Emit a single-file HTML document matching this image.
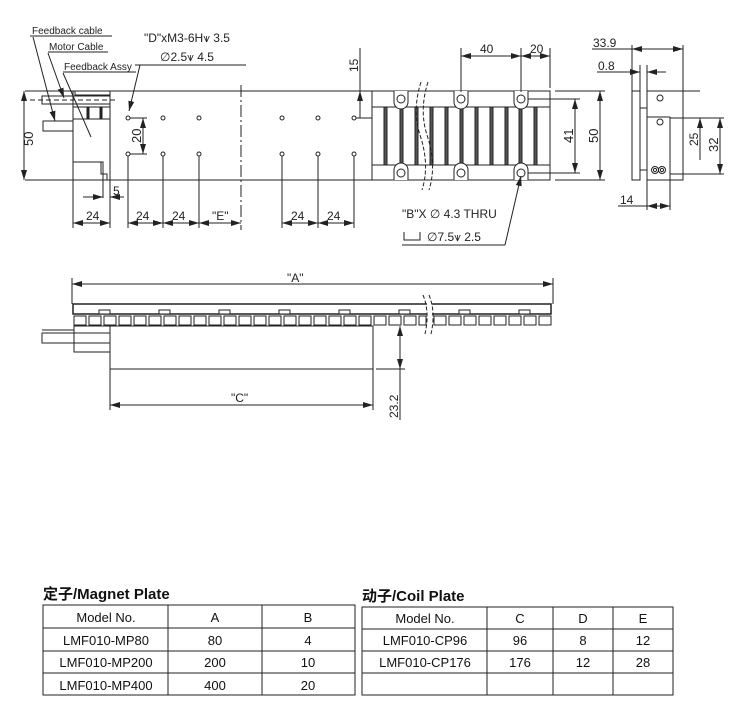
<!DOCTYPE html>
<html><head><meta charset="utf-8"><style>
html,body{margin:0;padding:0;background:#fff;}
svg{display:block;font-family:"Liberation Sans",sans-serif;}
.t{font-family:"Liberation Sans","Noto Sans CJK SC",sans-serif;}
</style></head><body>
<svg width="731" height="708" viewBox="0 0 731 708" xmlns="http://www.w3.org/2000/svg">
<defs>
<marker id="a" viewBox="0 0 10 6" refX="10" refY="3" markerWidth="10" markerHeight="6" orient="auto-start-reverse" markerUnits="userSpaceOnUse"><path d="M0,0 L10,3 L0,6 z" fill="#222"/></marker>
</defs>
<g stroke="#222" stroke-width="1" fill="none">
<line x1="25" y1="91" x2="372" y2="91"/>
<line x1="25" y1="180" x2="372" y2="180"/>
<rect x="73" y="91" width="37" height="89"/>
<rect x="75" y="91" width="35" height="4"/>
<rect x="42" y="96" width="68" height="8"/>
<line x1="30" y1="100" x2="116" y2="100" stroke-dasharray="5,3"/>
<rect x="43" y="121" width="30" height="10"/>
<rect x="73" y="107" width="37" height="12"/>
<line x1="88" y1="107" x2="88" y2="119" stroke-width="3"/>
<line x1="101" y1="107" x2="101" y2="119" stroke-width="3"/>
<rect x="73" y="162" width="30" height="18"/>
<path d="M101,162 V174 H107 V180"/>
<line x1="241" y1="85" x2="241" y2="230" stroke-dasharray="12,3,2,3"/>
<g fill="#fff">
<circle cx="128" cy="118" r="2"/><circle cx="163" cy="118" r="2"/><circle cx="199" cy="118" r="2"/>
<circle cx="282" cy="118" r="2"/><circle cx="318" cy="118" r="2"/><circle cx="354" cy="118" r="2"/>
<circle cx="128" cy="154" r="2"/><circle cx="163" cy="154" r="2"/><circle cx="199" cy="154" r="2"/>
<circle cx="282" cy="154" r="2"/><circle cx="318" cy="154" r="2"/><circle cx="354" cy="154" r="2"/>
</g>
<line x1="30" y1="36" x2="112" y2="36"/>
<line x1="33" y1="37" x2="55" y2="121" marker-end="url(#a)"/>
<line x1="48" y1="52" x2="108" y2="52"/>
<line x1="48" y1="53" x2="64" y2="98" marker-end="url(#a)"/>
<line x1="63" y1="72" x2="136" y2="72"/>
<line x1="63" y1="73" x2="91" y2="137"/>
<line x1="135" y1="65" x2="246" y2="65"/>
<line x1="140" y1="65" x2="129" y2="111" marker-end="url(#a)"/>
<line x1="24" y1="91" x2="24" y2="180" marker-start="url(#a)" marker-end="url(#a)"/>
<line x1="130" y1="118" x2="147" y2="118"/><line x1="130" y1="154" x2="147" y2="154"/>
<line x1="143" y1="118" x2="143" y2="154" marker-start="url(#a)" marker-end="url(#a)"/>
<line x1="360" y1="48" x2="360" y2="91"/>
<line x1="360" y1="91" x2="360" y2="118" marker-start="url(#a)"/>
<line x1="356" y1="118" x2="372" y2="118"/>
<line x1="73" y1="180" x2="73" y2="228"/><line x1="110" y1="180" x2="110" y2="228"/>
<line x1="128" y1="156" x2="128" y2="228"/><line x1="163" y1="156" x2="163" y2="228"/><line x1="199" y1="156" x2="199" y2="228"/>
<line x1="282" y1="156" x2="282" y2="228"/><line x1="318" y1="156" x2="318" y2="228"/><line x1="354" y1="156" x2="354" y2="228"/>
<line x1="103" y1="175" x2="103" y2="198"/>
<line x1="83" y1="197" x2="103" y2="197" marker-end="url(#a)"/>
<line x1="110" y1="197" x2="124" y2="197" marker-start="url(#a)"/>
<line x1="73" y1="223" x2="110" y2="223" marker-start="url(#a)" marker-end="url(#a)"/>
<line x1="128" y1="223" x2="163" y2="223" marker-start="url(#a)" marker-end="url(#a)"/>
<line x1="163" y1="223" x2="199" y2="223" marker-start="url(#a)" marker-end="url(#a)"/>
<line x1="199" y1="223" x2="241" y2="223" marker-start="url(#a)" marker-end="url(#a)"/>
<line x1="282" y1="223" x2="318" y2="223" marker-start="url(#a)" marker-end="url(#a)"/>
<line x1="318" y1="223" x2="354" y2="223" marker-start="url(#a)" marker-end="url(#a)"/>
<!-- magnet plate top view -->
<rect x="372" y="91" width="178" height="89"/>
<rect x="372" y="107" width="178" height="58"/>
<g fill="#555">
<rect x="384" y="107" width="3" height="58"/><rect x="400" y="107" width="3" height="58"/><rect x="415" y="107" width="3" height="58"/>
<rect x="430" y="107" width="3" height="58"/><rect x="445" y="107" width="3" height="58"/><rect x="460" y="107" width="3" height="58"/>
<rect x="475" y="107" width="3" height="58"/><rect x="490" y="107" width="3" height="58"/><rect x="505" y="107" width="3" height="58"/>
<rect x="519" y="107" width="3" height="58"/><rect x="534" y="107" width="3" height="58"/>
</g>
<path d="M421,82 Q412,110 420,135 Q430,165 422,190" stroke-dasharray="4,2"/>
<path d="M428,82 Q419,110 427,135 Q437,165 429,190" stroke-dasharray="4,2"/>
<g fill="#fff">
<path d="M394,91 V102 A7,7 0 0 0 408,102 V91"/><path d="M454,91 V102 A7,7 0 0 0 468,102 V91"/><path d="M514,91 V102 A7,7 0 0 0 528,102 V91"/>
<path d="M394,180 V170 A7,7 0 0 1 408,170 V180"/><path d="M454,180 V170 A7,7 0 0 1 468,170 V180"/><path d="M514,180 V170 A7,7 0 0 1 528,170 V180"/>
<circle cx="401" cy="99" r="4"/><circle cx="461" cy="99" r="4"/><circle cx="521" cy="99" r="4"/>
<circle cx="401" cy="173" r="4"/><circle cx="461" cy="173" r="4"/><circle cx="521" cy="173" r="4"/>
</g>
<line x1="461" y1="48" x2="461" y2="92"/><line x1="521" y1="48" x2="521" y2="92"/><line x1="550" y1="48" x2="550" y2="88"/>
<line x1="461" y1="56" x2="521" y2="56" marker-start="url(#a)" marker-end="url(#a)"/>
<line x1="521" y1="56" x2="550" y2="56" marker-start="url(#a)" marker-end="url(#a)"/>
<line x1="528" y1="99" x2="580" y2="99"/><line x1="528" y1="173" x2="580" y2="173"/>
<line x1="575" y1="99" x2="575" y2="173" marker-start="url(#a)" marker-end="url(#a)"/>
<line x1="555" y1="91" x2="605" y2="91"/><line x1="555" y1="180" x2="605" y2="180"/>
<line x1="600" y1="91" x2="600" y2="180" marker-start="url(#a)" marker-end="url(#a)"/>
<line x1="521" y1="176" x2="505" y2="245" marker-start="url(#a)"/>
<line x1="402" y1="245" x2="505" y2="245"/>
<path d="M404,232 V240 H420 V232"/>
<!-- side view -->
<rect x="632" y="91" width="8" height="89"/>
<rect x="640" y="108" width="7" height="62"/>
<rect x="647" y="91" width="36" height="89"/>
<line x1="647" y1="117" x2="670" y2="117"/>
<line x1="670" y1="117" x2="670" y2="174"/>
<circle cx="660" cy="98" r="3"/><circle cx="660" cy="122" r="3"/>
<circle cx="655" cy="170" r="3.5"/><circle cx="662" cy="170" r="3.5"/>
<circle cx="655" cy="170" r="1.6"/><circle cx="662" cy="170" r="1.6"/>
<line x1="632" y1="45" x2="632" y2="91"/><line x1="683" y1="45" x2="683" y2="91"/>
<line x1="592" y1="49" x2="632" y2="49"/>
<line x1="632" y1="49" x2="683" y2="49" marker-start="url(#a)" marker-end="url(#a)"/>
<line x1="640" y1="65" x2="640" y2="91"/><line x1="647" y1="65" x2="647" y2="91"/>
<line x1="597" y1="72" x2="640" y2="72" marker-end="url(#a)"/>
<line x1="647" y1="72" x2="666" y2="72" marker-start="url(#a)"/>
<line x1="670" y1="118" x2="724" y2="118"/><line x1="670" y1="174" x2="724" y2="174"/>
<line x1="683" y1="91" x2="700" y2="91"/>
<line x1="700" y1="118" x2="700" y2="160" marker-start="url(#a)"/>
<line x1="720" y1="118" x2="720" y2="174" marker-start="url(#a)" marker-end="url(#a)"/>
<line x1="647" y1="180" x2="647" y2="210"/><line x1="670" y1="174" x2="670" y2="210"/>
<line x1="618" y1="206" x2="647" y2="206"/>
<line x1="647" y1="206" x2="670" y2="206" marker-start="url(#a)" marker-end="url(#a)"/>
<!-- lower view -->
<line x1="72" y1="278" x2="72" y2="304"/><line x1="553" y1="278" x2="553" y2="304"/>
<line x1="72" y1="284" x2="553" y2="284" marker-start="url(#a)" marker-end="url(#a)"/>
<rect x="73" y="304" width="478" height="10" stroke-width="1.5"/>
<g fill="#fff">
<rect x="99" y="310" width="11" height="4"/><rect x="159" y="310" width="11" height="4"/><rect x="219" y="310" width="11" height="4"/><rect x="279" y="310" width="11" height="4"/><rect x="339" y="310" width="11" height="4"/><rect x="399" y="310" width="11" height="4"/><rect x="459" y="310" width="11" height="4"/><rect x="519" y="310" width="11" height="4"/>
</g>
<g>
<rect x="74" y="316" width="12" height="9"/><rect x="89" y="316" width="12" height="9"/><rect x="104" y="316" width="12" height="9"/><rect x="119" y="316" width="12" height="9"/><rect x="134" y="316" width="12" height="9"/><rect x="149" y="316" width="12" height="9"/><rect x="164" y="316" width="12" height="9"/><rect x="179" y="316" width="12" height="9"/><rect x="194" y="316" width="12" height="9"/><rect x="209" y="316" width="12" height="9"/><rect x="224" y="316" width="12" height="9"/><rect x="239" y="316" width="12" height="9"/><rect x="254" y="316" width="12" height="9"/><rect x="269" y="316" width="12" height="9"/><rect x="284" y="316" width="12" height="9"/><rect x="299" y="316" width="12" height="9"/><rect x="314" y="316" width="12" height="9"/><rect x="329" y="316" width="12" height="9"/><rect x="344" y="316" width="12" height="9"/><rect x="359" y="316" width="12" height="9"/><rect x="374" y="316" width="12" height="9"/><rect x="389" y="316" width="12" height="9"/><rect x="404" y="316" width="12" height="9"/><rect x="419" y="316" width="7" height="9"/><rect x="434" y="316" width="12" height="9"/><rect x="449" y="316" width="12" height="9"/><rect x="464" y="316" width="12" height="9"/><rect x="479" y="316" width="12" height="9"/><rect x="494" y="316" width="12" height="9"/><rect x="509" y="316" width="12" height="9"/><rect x="524" y="316" width="12" height="9"/><rect x="539" y="316" width="12" height="9"/>
</g>
<rect x="427" y="296" width="5" height="36" fill="#fff" stroke="none"/>
<path d="M423,295 Q430,312 425,334" stroke-dasharray="4,2"/>
<path d="M429,295 Q436,312 431,334" stroke-dasharray="4,2"/>
<rect x="110" y="326" width="263" height="43"/>
<rect x="74" y="326" width="36" height="26"/>
<rect x="42" y="333" width="68" height="10"/>
<line x1="42" y1="330" x2="74" y2="330"/>
<line x1="110" y1="369" x2="110" y2="410"/><line x1="373" y1="369" x2="373" y2="410"/>
<line x1="110" y1="405" x2="373" y2="405" marker-start="url(#a)" marker-end="url(#a)"/>
<line x1="376" y1="369" x2="405" y2="369"/>
<line x1="400" y1="326" x2="400" y2="369" marker-start="url(#a)" marker-end="url(#a)"/>
<line x1="400" y1="369" x2="400" y2="420"/>
<!-- tables -->
<rect x="43" y="605" width="312" height="90"/>
<line x1="43" y1="628" x2="355" y2="628"/><line x1="43" y1="651" x2="355" y2="651"/><line x1="43" y1="673" x2="355" y2="673"/>
<line x1="262" y1="605" x2="262" y2="695"/>
<line x1="168" y1="605" x2="168" y2="695"/>
<rect x="362" y="607" width="311" height="88"/>
<line x1="362" y1="629" x2="673" y2="629"/><line x1="362" y1="651" x2="673" y2="651"/><line x1="362" y1="673" x2="673" y2="673"/>
<line x1="487" y1="607" x2="487" y2="695"/><line x1="553" y1="607" x2="553" y2="695"/><line x1="613" y1="607" x2="613" y2="695"/>
</g>
<g fill="#222" font-size="11">
<text x="32" y="34" font-size="10">Feedback  cable</text>
<text x="49" y="50" font-size="10">Motor Cable</text>
<text x="64" y="70" font-size="10">Feedback Assy</text>
<text x="144" y="42" font-size="12">"D"xM3-6H⩛ 3.5</text>
<text x="160" y="61" font-size="12">∅2.5⩛ 4.5</text>
<text x="33" y="146" font-size="13" transform="rotate(-90 33 146)">50</text>
<text x="141" y="143" font-size="13" transform="rotate(-90 141 143)">20</text>
<text x="358" y="72" font-size="12" transform="rotate(-90 358 72)">15</text>
<text x="113" y="195" font-size="12">5</text>
<text x="86" y="220" font-size="12">24</text>
<text x="136" y="220" font-size="12">24</text>
<text x="172" y="220" font-size="12">24</text>
<text x="212" y="220" font-size="12">"E"</text>
<text x="291" y="220" font-size="12">24</text>
<text x="327" y="220" font-size="12">24</text>
<text x="480" y="53" font-size="12">40</text>
<text x="530" y="53" font-size="12">20</text>
<text x="573" y="143" font-size="13" transform="rotate(-90 573 143)">41</text>
<text x="598" y="143" font-size="13" transform="rotate(-90 598 143)">50</text>
<text x="402" y="218" font-size="12">"B"X ∅ 4.3 THRU</text>
<text x="427" y="241" font-size="12">∅7.5⩛ 2.5</text>
<text x="593" y="47" font-size="12">33.9</text>
<text x="598" y="70" font-size="12">0.8</text>
<text x="698" y="146" font-size="12" transform="rotate(-90 698 146)">25</text>
<text x="718" y="152" font-size="13" transform="rotate(-90 718 152)">32</text>
<text x="620" y="204" font-size="12">14</text>
<text x="287" y="282" font-size="12">"A"</text>
<text x="231" y="402" font-size="12">"C"</text>
<text x="398" y="418" font-size="12" transform="rotate(-90 398 418)">23.2</text>
</g>
<g class="t" fill="#111">
<text x="43" y="599" font-size="15" font-weight="bold">定子/Magnet Plate</text>
<text x="362" y="601" font-size="15" font-weight="bold">动子/Coil Plate</text>
<g font-size="13" text-anchor="middle">
<text x="106" y="622">Model No.</text><text x="215" y="622">A</text><text x="308" y="622">B</text>
<text x="106" y="645">LMF010-MP80</text><text x="215" y="645">80</text><text x="308" y="645">4</text>
<text x="106" y="667">LMF010-MP200</text><text x="215" y="667">200</text><text x="308" y="667">10</text>
<text x="106" y="690">LMF010-MP400</text><text x="215" y="690">400</text><text x="308" y="690">20</text>
<text x="425" y="623">Model No.</text><text x="520" y="623">C</text><text x="583" y="623">D</text><text x="643" y="623">E</text>
<text x="425" y="645">LMF010-CP96</text><text x="520" y="645">96</text><text x="583" y="645">8</text><text x="643" y="645">12</text>
<text x="425" y="667">LMF010-CP176</text><text x="520" y="667">176</text><text x="583" y="667">12</text><text x="643" y="667">28</text>
</g>
</g>
</svg>
</body></html>
